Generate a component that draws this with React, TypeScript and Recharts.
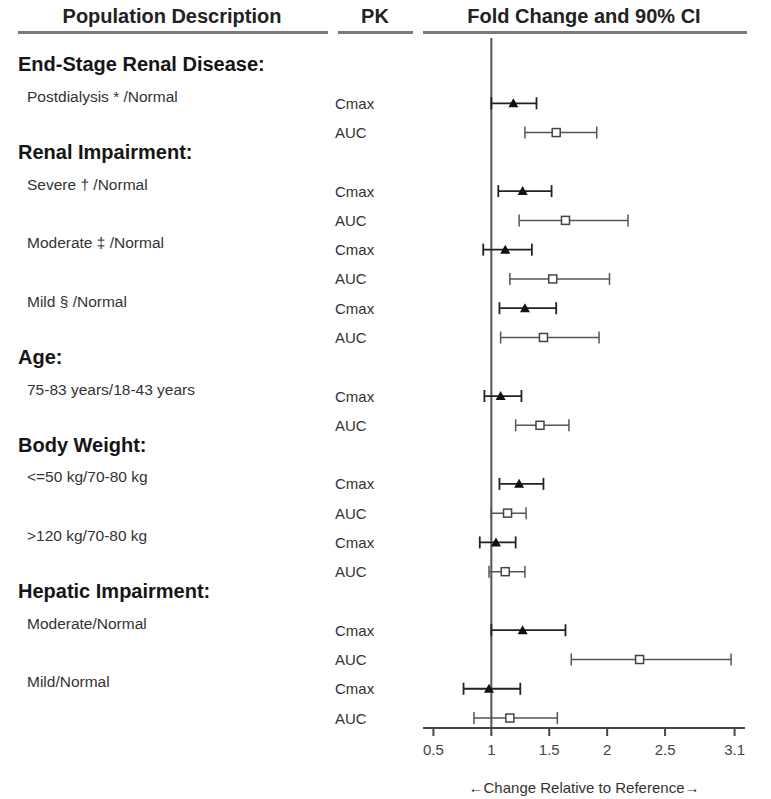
import React from 'react'
import {
  ScatterChart,
  Scatter,
  XAxis,
  YAxis,
  ErrorBar,
  ReferenceLine,
} from 'recharts'

const FONT = '"Liberation Sans", Arial, sans-serif'

// groups and the populations under them
const groupNames = [
  'End-Stage Renal Disease:',
  'Renal Impairment:',
  'Age:',
  'Body Weight:',
  'Hepatic Impairment:',
]
const populations = [
  'Postdialysis * /Normal',
  'Severe † /Normal',
  'Moderate ‡ /Normal',
  'Mild § /Normal',
  '75-83 years/18-43 years',
  '<=50 kg/70-80 kg',
  '>120 kg/70-80 kg',
  'Moderate/Normal',
  'Mild/Normal',
]
const populationGroup = [0, 1, 1, 1, 2, 3, 3, 4, 4]

// fold change and 90% CI
const cmaxEst = [1.19, 1.27, 1.12, 1.29, 1.08, 1.24, 1.04, 1.27, 0.98]
const cmaxLow = [1.0, 1.06, 0.93, 1.07, 0.94, 1.07, 0.9, 1.0, 0.76]
const cmaxHigh = [1.39, 1.52, 1.35, 1.56, 1.26, 1.45, 1.21, 1.64, 1.25]
const aucEst = [1.56, 1.64, 1.53, 1.45, 1.42, 1.14, 1.12, 2.28, 1.16]
const aucLow = [1.29, 1.24, 1.16, 1.08, 1.21, 1.0, 0.98, 1.69, 0.85]
const aucHigh = [1.91, 2.18, 2.02, 1.93, 1.67, 1.3, 1.29, 3.07, 1.57]

const xTicks = [0.5, 1, 1.5, 2, 2.5, 3.1]

type Slot =
  | { kind: 'group'; label: string }
  | { kind: 'pk'; pk: string; population?: string }

type Row = { slot: number; est: number; err: [number, number] }

const slots: Slot[] = []
const cmaxRows: Row[] = []
const aucRows: Row[] = []
let prevGroup = -1
populations.forEach((pop, i) => {
  if (populationGroup[i] !== prevGroup) {
    prevGroup = populationGroup[i]
    slots.push({ kind: 'group', label: groupNames[prevGroup] })
  }
  cmaxRows.push({
    slot: slots.length,
    est: cmaxEst[i],
    err: [cmaxEst[i] - cmaxLow[i], cmaxHigh[i] - cmaxEst[i]],
  })
  slots.push({ kind: 'pk', pk: 'Cmax', population: pop })
  aucRows.push({
    slot: slots.length,
    est: aucEst[i],
    err: [aucEst[i] - aucLow[i], aucHigh[i] - aucEst[i]],
  })
  slots.push({ kind: 'pk', pk: 'AUC' })
})
const slotTicks = slots.map((_, i) => i)

function RowTick(props: any) {
  const { y, payload } = props
  const slot = slots[payload.value]
  if (!slot) return null
  if (slot.kind === 'group') {
    return (
      <text
        x={10}
        y={y - 10}
        dominantBaseline="central"
        fontSize={20}
        fontWeight="bold"
        fill="#151515"
        fontFamily={FONT}
      >
        {slot.label}
      </text>
    )
  }
  return (
    <g fontFamily={FONT} fill="#333" fontSize={15}>
      {slot.population && (
        <text x={19} y={y - 7} dominantBaseline="central" fontSize={15.5}>
          {slot.population}
        </text>
      )}
      <text x={327} y={y} dominantBaseline="central">
        {slot.pk}
      </text>
    </g>
  )
}

function Triangle(props: any) {
  const { cx, cy } = props
  return (
    <path
      d={`M${cx},${cy - 5} L${cx + 5},${cy + 4} L${cx - 5},${cy + 4} Z`}
      fill="#111"
    />
  )
}

function Square(props: any) {
  const { cx, cy } = props
  return (
    <rect x={cx - 4} y={cy - 4} width={8} height={8} fill="#fff" stroke="#444" strokeWidth={1.5} />
  )
}

const headerText: React.CSSProperties = {
  position: 'absolute',
  top: -3,
  height: 22,
  lineHeight: '22px',
  fontSize: 20,
  fontWeight: 'bold',
  color: '#222',
  textAlign: 'center',
  whiteSpace: 'nowrap',
}
const headerLine: React.CSSProperties = {
  position: 'absolute',
  top: 23,
  height: 3,
  background: '#7a7a7a',
}

export default function App() {
  return (
    <div style={{ position: 'relative', width: 755, height: 791, fontFamily: FONT }}>
      <div style={{ ...headerText, left: 14, width: 300 }}>Population Description</div>
      <div style={{ ...headerText, left: 327, width: 80 }}>PK</div>
      <div style={{ ...headerText, left: 426, width: 300 }}>Fold Change and 90% CI</div>
      <div style={{ ...headerLine, left: 10, width: 310 }} />
      <div style={{ ...headerLine, left: 330, width: 75 }} />
      <div style={{ ...headerLine, left: 415, width: 324 }} />

      <ScatterChart
        width={755}
        height={791}
        margin={{ top: 30, right: 18, bottom: 0, left: 0 }}
      >
        <XAxis
          type="number"
          dataKey="est"
          domain={[0.41, 3.19]}
          allowDataOverflow
          ticks={xTicks}
          interval={0}
          height={71}
          tickSize={8}
          tickMargin={8}
          stroke="#444"
          strokeWidth={2}
          tick={{ fontSize: 15, fill: '#444', fontFamily: FONT }}
          label={{
            value: '←Change Relative to Reference→',
            position: 'insideBottom',
            offset: 6,
            fontSize: 15,
            fill: '#333',
            fontFamily: FONT,
          }}
        />
        <YAxis
          type="number"
          dataKey="slot"
          domain={[-1.23, 22.34]}
          allowDataOverflow
          reversed
          ticks={slotTicks}
          interval={0}
          width={415}
          axisLine={false}
          tickLine={false}
          tick={<RowTick />}
        />
        <ReferenceLine x={1} stroke="#555" strokeWidth={2} />
        <Scatter data={cmaxRows} shape={<Triangle />} isAnimationActive={false}>
          <ErrorBar dataKey="err" direction="x" width={6} stroke="#222" strokeWidth={1.8} />
        </Scatter>
        <Scatter data={aucRows} shape={<Square />} isAnimationActive={false}>
          <ErrorBar dataKey="err" direction="x" width={6} stroke="#555" strokeWidth={1.5} />
        </Scatter>
      </ScatterChart>
    </div>
  )
}
